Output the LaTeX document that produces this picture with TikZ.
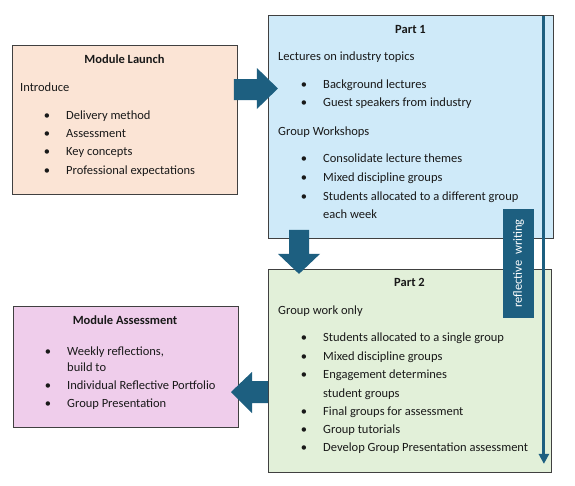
\documentclass[tikz,border=0pt]{standalone}
\usepackage{fontspec}
\setmainfont{Carlito}
\usetikzlibrary{arrows.meta,calc}
\definecolor{arrowblue}{HTML}{1D5F80}
\definecolor{launchfill}{HTML}{FBE4D5}
\definecolor{partonefill}{HTML}{CFEAF9}
\definecolor{parttwofill}{HTML}{E2F0D9}
\definecolor{assessfill}{HTML}{EFCDEB}
\definecolor{boxline}{HTML}{404040}
\begin{document}
\begin{tikzpicture}[x=1pt,y=-1pt,
 box/.style={draw=boxline, line width=0.9pt, anchor=north west, inner sep=0pt},
 txt/.style={anchor=base west, inner sep=0pt, font=\fontsize{12.5}{14}\selectfont, text=black!90},
 bul/.style={anchor=base, inner sep=0pt, font=\fontsize{12.5}{14}\selectfont, text=black!90},
 ttl/.style={anchor=base, inner sep=0pt, font=\fontsize{12.5}{14}\selectfont\bfseries, text=black!90},
 bigarrow/.style={fill=arrowblue, draw=none}]
\useasboundingbox (0,0) rectangle (575,485);
\fill[white] (0,0) rectangle (575,485);

% boxes
\node[box, fill=launchfill, minimum width=225pt, minimum height=149pt] (launch) at (12,45) {};
\node[box, fill=partonefill, minimum width=285pt, minimum height=223pt] (part1) at (268,15) {};
\node[box, fill=parttwofill, minimum width=283pt, minimum height=203pt] (part2) at (268,269) {};
\node[box, fill=assessfill, minimum width=225pt, minimum height=121pt] (assess) at (13,306) {};

% block arrows
\fill[bigarrow] ($(launch.north east)+(-4,34)$) -- ++(23,0) -- ++(0,-11) -- ++(21,20.5) -- ++(-21,20.5) -- ++(0,-9) -- ++(-23,0) -- cycle;
\fill[bigarrow] ($(part1.south west)+(21,-9)$) -- ++(20,0) -- ++(0,24) -- ++(11,0) -- ++(-21,20) -- ++(-21,-20) -- ++(11,0) -- cycle;
\fill[bigarrow] ($(part2.north west)+(0,112)$) -- ++(-16,0) -- ++(0,-9) -- ++(-21,20) -- ++(21,21) -- ++(0,-10) -- ++(16,0) -- cycle;

% reflective writing
\coordinate (rwtop) at ($(part1.north east)+(-10,1)$);
\path (rwtop |- part2.south) ++(0,-9) coordinate (rwend);
\node[fill=arrowblue, text=white, rotate=90, minimum width=109pt, minimum height=31pt, inner sep=0pt, font=\fontsize{12.5}{14}\selectfont] (rw) at (518.5,263.5) {reflective\ \ writing};
\draw[arrowblue, line width=3pt, -{Triangle[width=10pt,length=10pt]}] (rwtop) -- (rwend);

% Module Launch text
\node[ttl] (t1) at (124.5,63) {Module Launch};
\node[txt] (l0) at (20,91) {Introduce};
\node[bul] (lb1) at (47,119) {•}; \node[txt] (l1) at (66,119) {Delivery method};
\node[bul] (lb2) at (47,137) {•}; \node[txt] (l2) at (66,137) {Assessment};
\node[bul] (lb3) at (47,155) {•}; \node[txt] (l3) at (66,155) {Key concepts};
\node[bul] (lb4) at (47,174) {•}; \node[txt] (l4) at (66,174) {Professional expectations};

% Part 1 text
\node[ttl] (t2) at (410.5,33) {Part 1};
\node[txt] (p0) at (278,60) {Lectures on industry topics};
\node[bul] (pb1) at (304,88) {•}; \node[txt] (p1) at (323,88) {Background lectures};
\node[bul] (pb2) at (304,106) {•}; \node[txt] (p2) at (323,106) {Guest speakers from industry};
\node[txt] (p3) at (278,135) {Group Workshops};
\node[bul] (pb4) at (304,162) {•}; \node[txt] (p4) at (323,162) {Consolidate lecture themes};
\node[bul] (pb5) at (304,181) {•}; \node[txt] (p5) at (323,181) {Mixed discipline groups};
\node[bul] (pb6) at (304,200) {•}; \node[txt] (p6) at (323,200) {Students allocated to a different group};
\node[txt] (p7) at (323,218) {each week};

% Part 2 text
\node[ttl] (t3) at (409.5,286) {Part 2};
\node[txt] (q0) at (278,314) {Group work only};
\node[bul] (qb1) at (304,341) {•}; \node[txt] (q1) at (323,341) {Students allocated to a single group};
\node[bul] (qb2) at (304,360) {•}; \node[txt] (q2) at (323,360) {Mixed discipline groups};
\node[bul] (qb3) at (304,378) {•}; \node[txt] (q3) at (323,378) {Engagement determines};
\node[txt] (q4) at (323,397) {student groups};
\node[bul] (qb5) at (304,415) {•}; \node[txt] (q5) at (323,415) {Final groups for assessment};
\node[bul] (qb6) at (304,433) {•}; \node[txt] (q6) at (323,433) {Group tutorials};
\node[bul] (qb7) at (304,451) {•}; \node[txt] (q7) at (323,451) {Develop Group Presentation assessment};

% Module Assessment text
\node[ttl] (t4) at (125,324) {Module Assessment};
\node[bul] (ab1) at (48,355) {•}; \node[txt] (a1) at (67,355) {Weekly reflections,};
\node[txt] (a2) at (67,371) {build to};
\node[bul] (ab3) at (48,389) {•}; \node[txt] (a3) at (67,389) {Individual Reflective Portfolio};
\node[bul] (ab4) at (48,407) {•}; \node[txt] (a4) at (67,407) {Group Presentation};
\end{tikzpicture}
\end{document}
